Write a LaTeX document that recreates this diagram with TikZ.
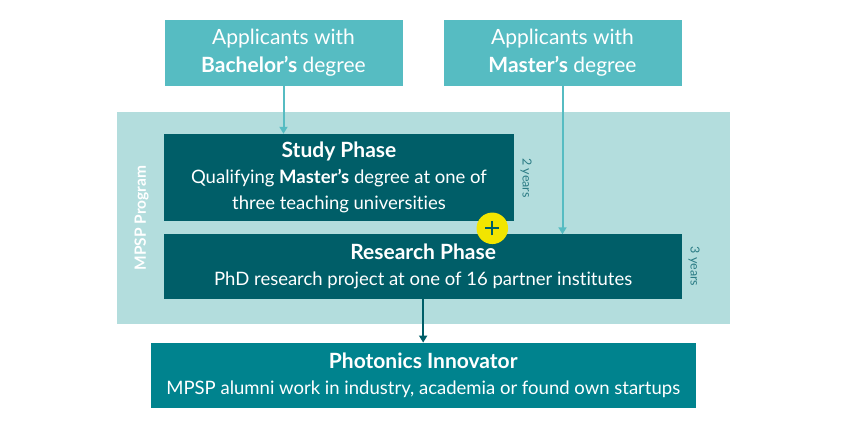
\documentclass[tikz,border=0pt]{standalone}
\usepackage{fontspec}
\setmainfont{Lato}[Ligatures={NoCommon}]
\usetikzlibrary{arrows.meta}
\definecolor{lightbox}{HTML}{56BCC2}
\definecolor{progbg}{HTML}{B3DDDD}
\definecolor{darkbox}{HTML}{005E68}
\definecolor{bottombox}{HTML}{00838E}
\definecolor{plusyellow}{HTML}{F2E500}
\definecolor{yearcol}{HTML}{2A7B84}
\tikzset{
  box/.style={rectangle, inner sep=0pt, text=white, align=center},
  applbox/.style={box, fill=lightbox, minimum width=238pt, minimum height=66pt,
    font=\fontsize{21}{28}\selectfont},
  phasebox/.style={box, fill=darkbox, font=\fontsize{18.5}{26}\selectfont},
  outbox/.style={box, fill=bottombox, minimum width=544.5pt, minimum height=64.7pt,
    font=\fontsize{18.5}{26}\selectfont},
  titletext/.style={},
  lightarrow/.style={draw=lightbox, line width=2pt, -{Triangle[width=8pt,length=7pt]}},
  darkarrow/.style={draw=darkbox, line width=2pt, -{Triangle[width=8pt,length=7pt]}},
  yearlabel/.style={text=yearcol, font=\fontsize{12.5}{14}\selectfont, rotate=-90, inner sep=0pt},
}
\newcommand{\phasetitle}[1]{{\fontsize{21}{26}\selectfont\bfseries #1}}
\begin{document}
\begin{tikzpicture}[x=1pt,y=-1pt]
\useasboundingbox (0,0) rectangle (847,433);
\fill[white] (0,0) rectangle (847,433);
% program background
\node[rectangle, fill=progbg, inner sep=0pt, minimum width=613pt, minimum height=211.8pt, anchor=north west] (prog) at (117,111.5) {};
\node[text=white, font=\fontsize{15.5}{18}\selectfont\bfseries, rotate=90, inner sep=0pt] (proglabel) at (141.5,218) {MPSP Program};
% applicant boxes
\node[applbox] (bach) at (283.5,53) {Applicants with\\\textbf{Bachelor’s} degree};
\node[applbox] (mast) at (562.5,53) {Applicants with\\\textbf{Master’s} degree};
% phases
\node[phasebox, minimum width=350pt, minimum height=87.5pt] (study) at (339,177.75)
  {\phasetitle{Study Phase}\\Qualifying \textbf{Master’s} degree at one of\\three teaching universities};
\node[phasebox, minimum width=518.3pt, minimum height=64.5pt] (research) at (423.15,266.75)
  {\phasetitle{Research Phase}\\PhD research project at one of 16 partner institutes};
\node[yearlabel] (y2) at (526,178) {2 years};
\node[yearlabel] (y3) at (694,266.5) {3 years};
% outcome
\node[outbox] (innov) at (423.25,375.15)
  {\phasetitle{Photonics Innovator}\\MPSP alumni work in industry, academia or found own startups};
% connectors
\draw[lightarrow] (bach.south) -- (bach.south |- study.north);
\draw[lightarrow] (mast.south) -- (mast.south |- research.north);
\draw[darkarrow] (research.south) -- (research.south |- innov.north);
% plus
\node[circle, fill=plusyellow, minimum size=31.5pt, inner sep=0pt] (plus) at (492.3,228.3) {};
\draw[darkbox, line width=2.2pt] ([xshift=-7pt]plus.center) -- ([xshift=7pt]plus.center)
  ([yshift=-7pt]plus.center) -- ([yshift=7pt]plus.center);
\end{tikzpicture}
\end{document}
